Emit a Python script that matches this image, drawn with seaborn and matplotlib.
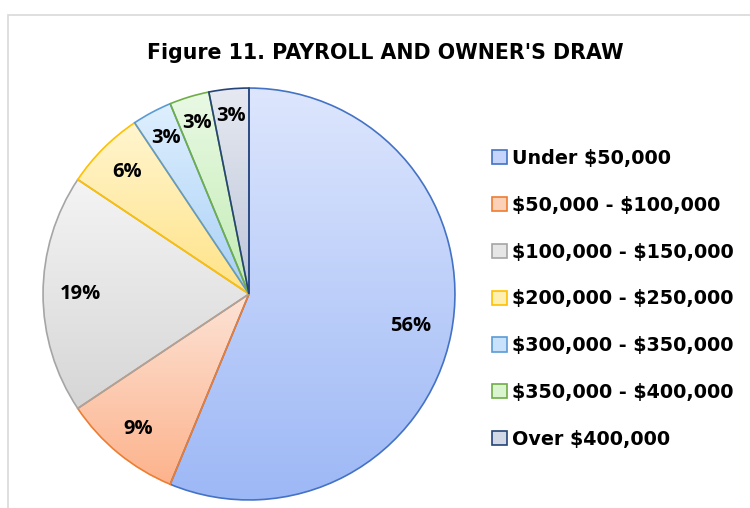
import numpy as np
import matplotlib
matplotlib.use("Agg")
import matplotlib.pyplot as plt
import seaborn as sns
from matplotlib.patches import Patch, Rectangle
from matplotlib.colors import LinearSegmentedColormap

# ---- data ----
categories = ["Under $50,000", "$50,000 - $100,000", "$100,000 - $150,000",
              "$200,000 - $250,000", "$300,000 - $350,000", "$350,000 - $400,000",
              "Over $400,000"]
counts = [18, 3, 6, 2, 1, 1, 1]
title = "Figure 11. PAYROLL AND OWNER'S DRAW"

# ---- style ----
edge_colors = ["#4472C4", "#ED7D31", "#A5A5A5", "#FFC000", "#5B9BD5", "#70AD47", "#264478"]
top_colors = ["#dde6fd", "#fde3d6", "#f4f4f4", "#fff5cf", "#dff0fe", "#e9f9e4", "#e6e9f1"]
bot_colors = ["#9db8f6", "#fcb38c", "#d6d6d6", "#ffe387", "#a8cff6", "#c3ecb4", "#bdc5d9"]
mid_colors = ["#c5d4fb", "#fdd0b8", "#e6e6e6", "#ffefb0", "#c8e2fb", "#d9f4cf", "#d3d8e6"]
label_radius = [0.80, 0.85, 0.82, 0.84, 0.86, 0.87, 0.87]

sns.set_theme(style="white")
plt.rcParams['font.family'] = ['DejaVu Sans']
plt.rcParams['text.parse_math'] = False
plt.rcParams['text.color'] = 'black'

W, H = 750, 508
fig = plt.figure(figsize=(W / 100, H / 100), dpi=100)
fig.patch.set_facecolor("white")

# outer chart border
fig.add_artist(Rectangle((8 / W, -0.1), 1.2, 1 - 15 / H + 0.1, transform=fig.transFigure,
                         fill=False, edgecolor="#d9d9d9", linewidth=1.2))

cx, cy, r = 249, 294, 208
ax = fig.add_axes([(cx - r) / W, (H - cy - r) / H, 2 * r / W, 2 * r / H])
ax.set_aspect("equal")
ax.axis("off")

wedges, _ = ax.pie(counts, startangle=90, counterclock=False, radius=1,
                   colors=mid_colors,
                   wedgeprops=dict(linewidth=1.2, edgecolor="none"))

total = sum(counts)
for i, w in enumerate(wedges):
    path = w.get_path().transformed(w.get_patch_transform())
    bb = path.get_extents()
    cmap = LinearSegmentedColormap.from_list("g", [top_colors[i], bot_colors[i]])
    grad = np.linspace(0, 1, 256).reshape(-1, 1)
    im = ax.imshow(grad, cmap=cmap, extent=[bb.x0, bb.x1, bb.y0, bb.y1],
                   origin="upper", aspect="auto", zorder=1, interpolation="bilinear")
    im.set_clip_path(w)
    w.set_facecolor("none")
    w.set_edgecolor(edge_colors[i])
    w.set_zorder(2)
    ang = np.deg2rad((w.theta1 + w.theta2) / 2)
    pct = 100 * counts[i] / total
    ax.text(label_radius[i] * np.cos(ang), label_radius[i] * np.sin(ang), f"{pct:.0f}%",
            ha="center", va="center", fontsize=14.5, fontweight="bold", color="black",
            family=["Open Sans", "DejaVu Sans"], zorder=3)
ax.set_xlim(-1.01, 1.01)
ax.set_ylim(-1.01, 1.01)

handles = [Patch(facecolor=mid_colors[i], edgecolor=edge_colors[i], linewidth=1.2)
           for i in range(len(categories))]
leg = fig.legend(handles, categories, loc="upper left", bbox_to_anchor=(492 / W, 1 - 149 / H),
                 frameon=False, prop=dict(family="DejaVu Sans", weight="bold", size=13.8),
                 handlelength=0.76, handleheight=0.76, handletextpad=0.3, labelspacing=1.45,
                 borderaxespad=0, borderpad=0)
for t in leg.get_texts():
    t.set_color("black")

fig.text(385 / W, 1 - 53 / H, title, ha="center", va="center", fontsize=14.8,
         fontweight="bold", family=["DejaVu Sans"], color="black")

fig.savefig("out.png", dpi=100)
